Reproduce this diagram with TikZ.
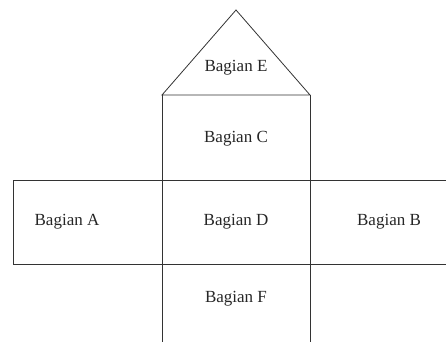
\documentclass[tikz,border=0pt]{standalone}
\usepackage{fontspec}
\setmainfont{Liberation Serif}
\begin{document}
\begin{tikzpicture}[x=1pt,y=-1pt,
  ln/.style={line width=0.8pt,draw=black!80},
  lbl/.style={font=\fontsize{17}{19}\selectfont,text=black!85,inner sep=0pt}]
\useasboundingbox (0,0) rectangle (446,342);
% coordinates
\coordinate (apex) at (236,10);
\coordinate (bl) at (162,95);
\coordinate (br) at (310,95);
\coordinate (lb) at (162,342);
\coordinate (rb) at (310,342);
\coordinate (rtl) at (13,180);
\coordinate (rtr) at (446,180);
\coordinate (rbl) at (13,264);
\coordinate (rbr) at (446,264);
% shapes
\draw[ln] (bl) -- (apex) -- (br) -- cycle;
\draw[ln] (bl) -- (lb);
\draw[ln] (br) -- (rb);
\draw[ln] (rtr) -- (rtl) -- (rbl) -- (rbr);
% labels
\node[lbl] (e) at (236,68) {Bagian E};
\node[lbl] (c) at (236,139) {Bagian C};
\node[lbl] (a) at (67,222) {Bagian A};
\node[lbl] (d) at (236,222) {Bagian D};
\node[lbl] (b) at (389,222) {Bagian B};
\node[lbl] (f) at (236,299) {Bagian F};
\end{tikzpicture}
\end{document}
